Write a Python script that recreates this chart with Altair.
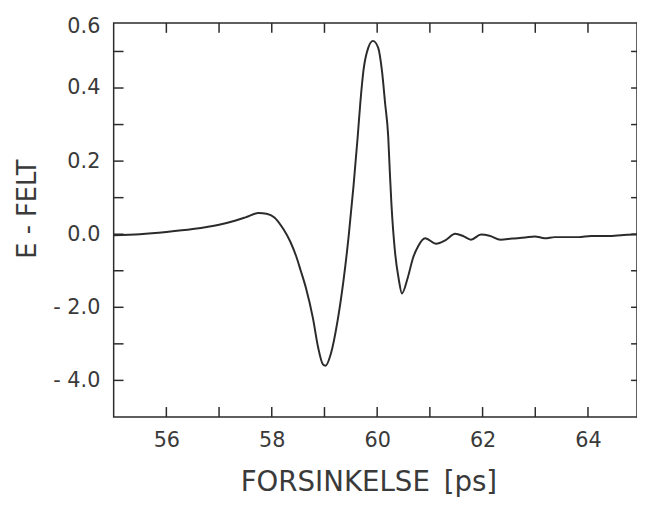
import altair as alt
import pandas as pd

# Delay (ps) and E-field
delay = [55.0, 55.5, 56.0, 56.5, 57.0, 57.3, 57.5, 57.75, 57.9, 58.05, 58.22, 58.35,
         58.46, 58.55, 58.65, 58.78, 58.88, 58.97, 59.02, 59.12, 59.25, 59.36, 59.46,
         59.55, 59.63, 59.68, 59.74, 59.83, 59.92, 60.02, 60.09, 60.15, 60.21, 60.24,
         60.27, 60.34, 60.41, 60.47, 60.58, 60.68, 60.78, 60.91, 61.12, 61.3, 61.48,
         61.63, 61.78, 61.97, 62.13, 62.34, 62.56, 62.81, 62.99, 63.18, 63.37, 63.55,
         63.82, 64.06, 64.38, 64.68, 64.9, 65.0]
efelt = [-0.003, 0.0, 0.006, 0.014, 0.026, 0.037, 0.046, 0.058, 0.056, 0.046, 0.014, -0.02,
         -0.059, -0.1, -0.148, -0.229, -0.31, -0.356, -0.36, -0.328, -0.236, -0.128, -0.004,
         0.13, 0.266, 0.359, 0.448, 0.51, 0.529, 0.51, 0.448, 0.359, 0.266, 0.17,
         0.084, -0.051, -0.124, -0.162, -0.119, -0.065, -0.032, -0.011, -0.026, -0.016, 0.001,
         -0.005, -0.015, -0.001, -0.004, -0.015, -0.012, -0.009, -0.006, -0.011, -0.008, -0.008,
         -0.008, -0.005, -0.005, -0.002, -0.001, -0.001]

x_tick_values = [56, 57, 58, 59, 60, 61, 62, 63, 64, 65]
x_label_values = [56, 58, 60, 62, 64]

y_tick_values = [-0.4, -0.3, -0.2, -0.1, 0.0, 0.1, 0.2, 0.3, 0.4, 0.5]
y_label_values = [-0.4, -0.2, 0.0, 0.2, 0.4, 0.568]
y_label_texts = ["- 4.0", "- 2.0", "0.0", "0.2", "0.4", "0.6"]

x_title = "FORSINKELSE\u2002[ps]"
y_title = "E - FELT"

W, H = 530, 399
X_DOMAIN = [55, 64.93]
Y_DOMAIN = [-0.5, 0.578]
INK = "#2b2b2b"
TEXT = "#3a3a3a"
FONT = "DejaVu Sans"


def label_expr(values, texts):
    expr = "''"
    for v, s in zip(values, texts):
        expr = f"abs(datum.value - ({v})) < 0.000001 ? '{s}' : " + expr
    return expr


df = pd.DataFrame({"t": delay, "e": efelt})
xt = pd.DataFrame({"t": x_tick_values})
yt = pd.DataFrame({"e": y_tick_values})

xs = alt.Scale(domain=X_DOMAIN, nice=False, zero=False)
ys = alt.Scale(domain=Y_DOMAIN, nice=False, zero=False)

x_axis = alt.Axis(values=x_label_values, format="d", titleX=258, titleY=53,
                  labelPadding=13, titleFontSize=28)
y_axis = alt.Axis(values=y_label_values,
                  labelExpr=label_expr(y_label_values, y_label_texts),
                  titleX=-74, titleY=188, labelPadding=14, titleFontSize=26)

line = alt.Chart(df).mark_line(color=INK, strokeWidth=2, clip=True,
                               interpolate="monotone").encode(
    x=alt.X("t:Q", scale=xs, title=x_title, axis=x_axis),
    y=alt.Y("e:Q", scale=ys, title=y_title, axis=y_axis),
)

bottom_ticks = alt.Chart(xt).mark_rule(color=INK, strokeWidth=1.5).encode(
    x=alt.X("t:Q", scale=xs, title=x_title, axis=x_axis),
    y=alt.value(H), y2=alt.value(H - 10))
top_ticks = alt.Chart(xt).mark_rule(color=INK, strokeWidth=1.5).encode(
    x=alt.X("t:Q", scale=xs, title=x_title, axis=x_axis),
    y=alt.value(0), y2=alt.value(10))
left_ticks = alt.Chart(yt).mark_rule(color=INK, strokeWidth=1.5).encode(
    y=alt.Y("e:Q", scale=ys, title=y_title, axis=y_axis),
    x=alt.value(0), x2=alt.value(10))
right_ticks = alt.Chart(yt).mark_rule(color=INK, strokeWidth=1.5).encode(
    y=alt.Y("e:Q", scale=ys, title=y_title, axis=y_axis),
    x=alt.value(W - 6), x2=alt.value(W))

chart = alt.layer(line, bottom_ticks, top_ticks, left_ticks, right_ticks).properties(
    width=W, height=H, autosize="none",
    padding={"left": 107, "top": 12, "right": 0, "bottom": 84},
).configure_view(stroke=INK, strokeWidth=1.5).configure_axis(
    grid=False, ticks=False, domain=False, labelFontSize=21, labelFont=FONT,
    labelColor=TEXT, labelFlush=False, labelOverlap=False, titleFont=FONT,
    titleFontWeight="normal", titleColor=TEXT,
)

chart.save("out.html", embed_options={"renderer": "svg", "actions": False})
